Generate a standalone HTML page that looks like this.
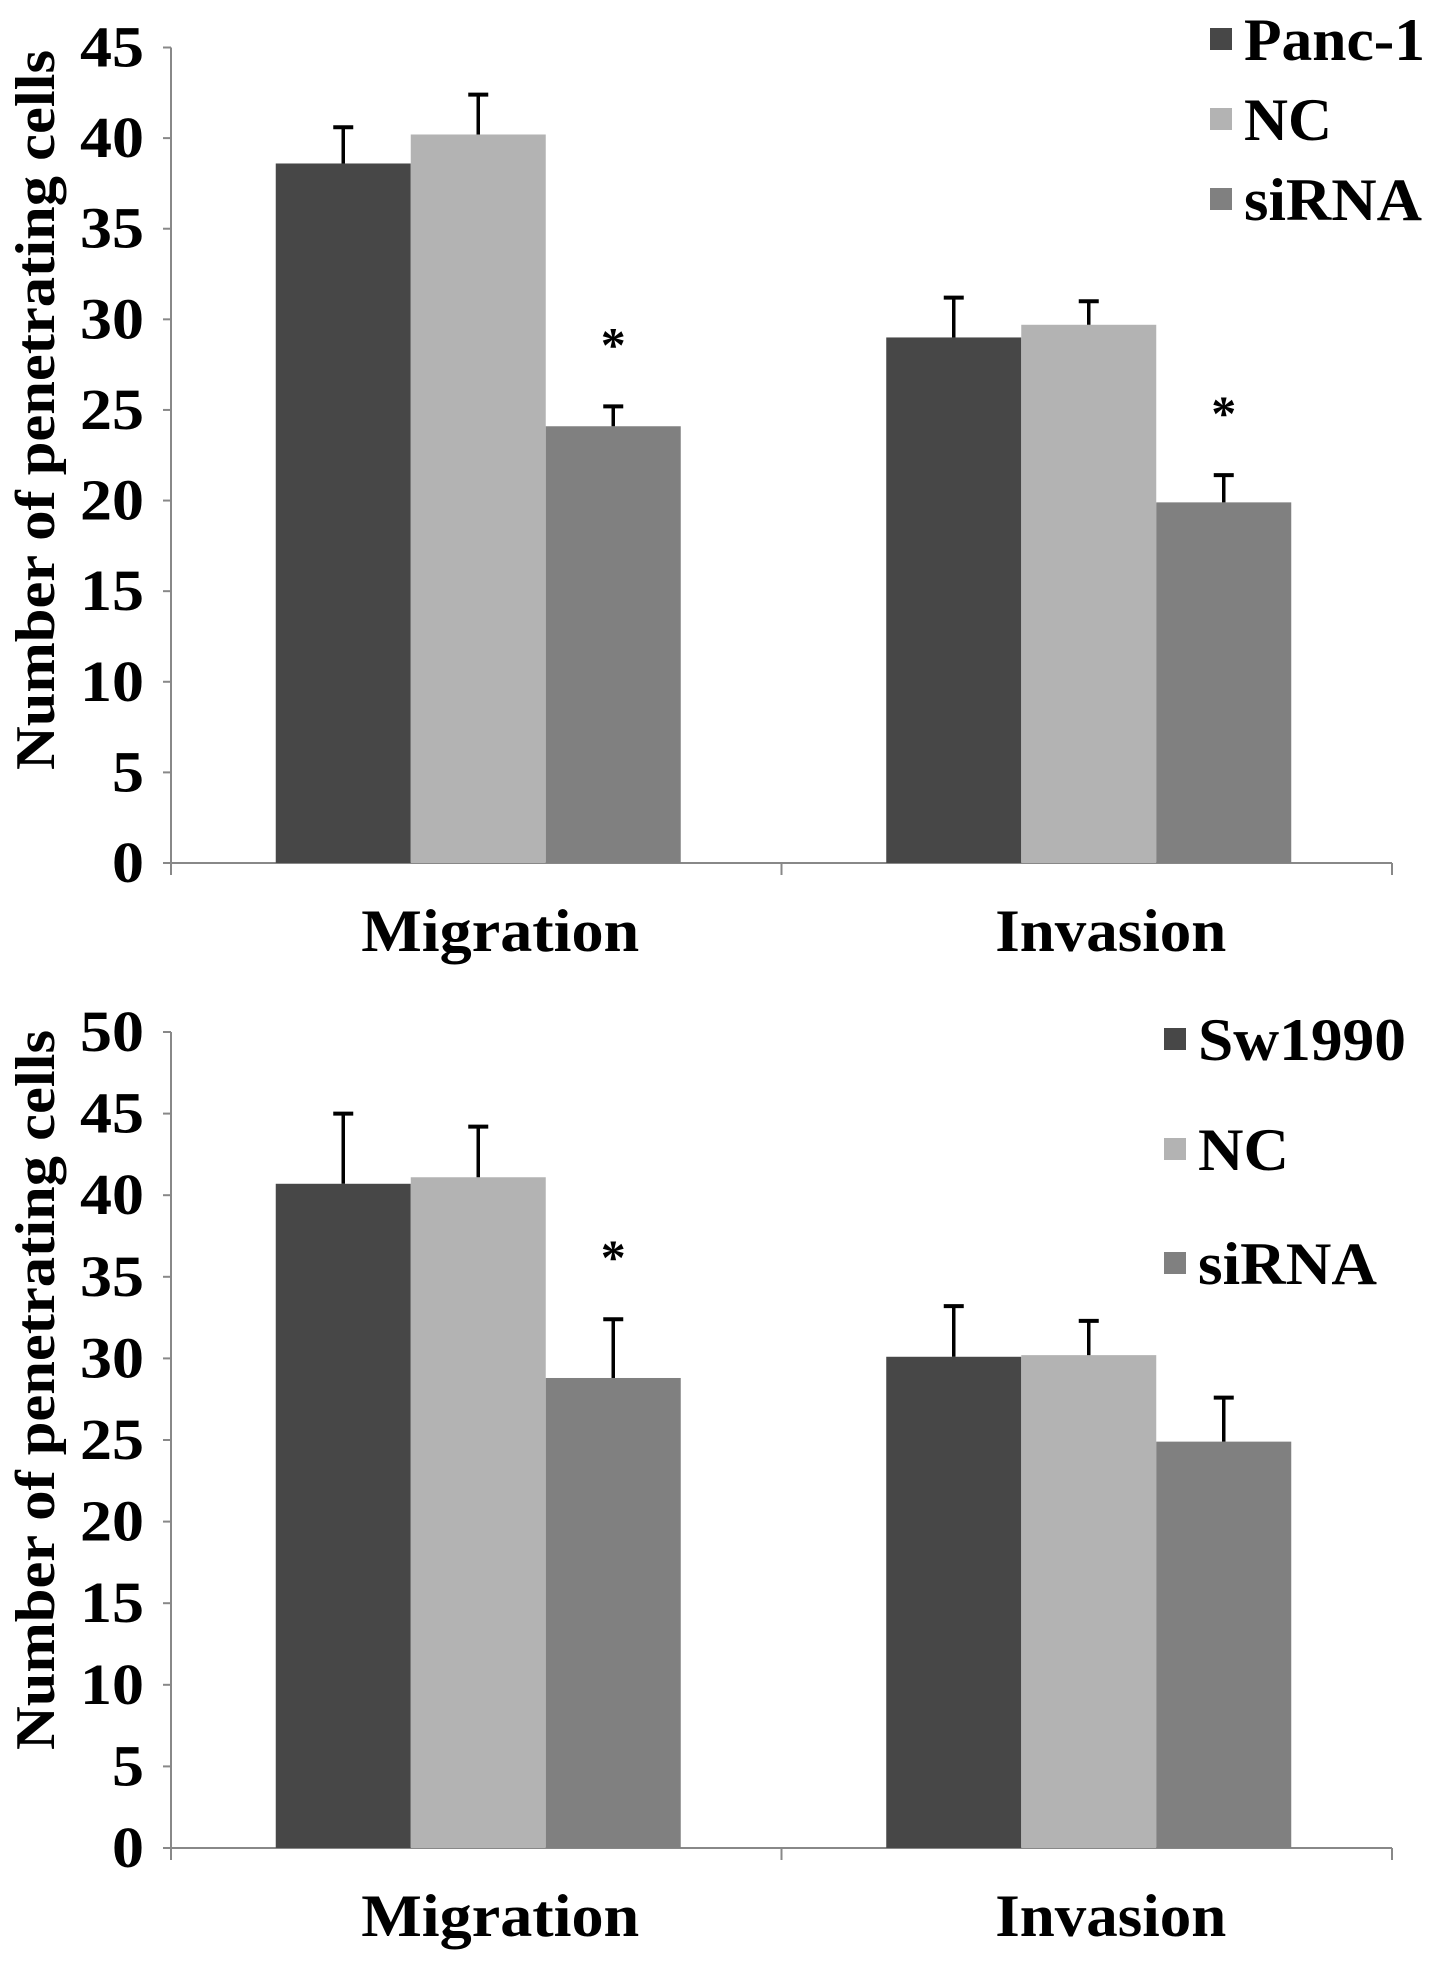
<!DOCTYPE html>
<html><head><meta charset="utf-8"><style>
html,body{margin:0;padding:0;background:#fff}
svg text{font-family:"Liberation Serif",serif;font-weight:bold;fill:#000}
</style></head><body>
<svg id="chart" width="1441" height="1964" viewBox="0 0 1441 1964" xmlns="http://www.w3.org/2000/svg"></svg>
<script>
const categories = ["Migration", "Invasion"];
const seriesTop = ["Panc-1", "NC", "siRNA"];
const seriesBottom = ["Sw1990", "NC", "siRNA"];
const topValues = [[38.6, 29.0], [40.2, 29.7], [24.1, 19.9]];
const topErrors = [[2.0, 2.2], [2.2, 1.3], [1.1, 1.5]];
const topStars = [[false, false], [false, false], [true, true]];
const topTicks = [0, 5, 10, 15, 20, 25, 30, 35, 40, 45];
const bottomValues = [[40.7, 30.1], [41.1, 30.2], [28.8, 24.9]];
const bottomErrors = [[4.3, 3.1], [3.1, 2.1], [3.6, 2.7]];
const bottomStars = [[false, false], [false, false], [true, false]];
const bottomTicks = [0, 5, 10, 15, 20, 25, 30, 35, 40, 45, 50];
const colors = ["#474747", "#b3b3b3", "#808080"];
const NS = "http://www.w3.org/2000/svg";
const svg = document.getElementById("chart");
function mk(tag, attrs, parent) {
  const e = document.createElementNS(NS, tag);
  for (const k in attrs) e.setAttribute(k, attrs[k]);
  (parent || svg).appendChild(e);
  return e;
}
function drawChart(cfg) {
  const g = mk("g", {});
  
  
  const x0 = 171, x1 = 1392;
  const maxV = cfg.ticks[cfg.ticks.length - 1];
  const y = v => cfg.y0 - (cfg.y0 - cfg.yTop) * v / maxV;
  const catW = (x1 - x0) / categories.length;
  const barW = 135;
  const ya = mk("line", {x1: x0, y1: y(maxV), x2: x0, y2: cfg.y0, stroke: "#888", "stroke-width": 2}, g);
  
  
  cfg.ticks.forEach(t => {
    const tk = mk("line", {x1: x0 - 8, y1: y(t), x2: x0, y2: y(t), stroke: "#888", "stroke-width": 2}, g);
    
    
    const s = String(t);
    const tl = mk("text", {x: x0 - 27, y: y(t) + 19, "text-anchor": "end", "font-size": 58, textLength: s.length * 32, lengthAdjust: "spacingAndGlyphs"}, g);
    tl.textContent = s;
    
    
  });
  const xa = mk("line", {x1: x0, y1: cfg.y0, x2: x1, y2: cfg.y0, stroke: "#888", "stroke-width": 2}, g);
  
  
  for (let i = 0; i <= categories.length; i++) {
    const tk = mk("line", {x1: x0 + i * catW, y1: cfg.y0, x2: x0 + i * catW, y2: cfg.y0 + 12, stroke: "#888", "stroke-width": 2}, g);
    
    
  }
  const labelLen = [278, 231];
  categories.forEach((c, ci) => {
    const cx = x0 + catW * (ci + 0.5);
    const lbl = mk("text", {x: cx + 24, y: cfg.y0 + 88, "text-anchor": "middle", "font-size": 60, textLength: labelLen[ci], lengthAdjust: "spacingAndGlyphs"}, g);
    lbl.textContent = c;
    
    
    cfg.values.forEach((vals, si) => {
      const v = vals[ci], e = cfg.errors[si][ci];
      const bx = cx - 1.5 * barW + si * barW + 2;
      const r = mk("rect", {x: bx, y: y(v), width: barW, height: cfg.y0 - y(v), fill: colors[si]}, g);
      
      
      const mx = bx + barW / 2;
      const el = mk("line", {x1: mx, y1: y(v), x2: mx, y2: y(v + e), stroke: "#000", "stroke-width": 3.5}, g);
      
      
      const cap = mk("line", {x1: mx - 10, y1: y(v + e), x2: mx + 10, y2: y(v + e), stroke: "#000", "stroke-width": 4}, g);
      
      
      if (cfg.stars[si][ci]) {
        const st = mk("text", {x: mx, y: y(v + e) - 45, "text-anchor": "middle", "font-size": 50}, g);
        st.textContent = "*";
        
        
      }
    });
  });
  const yt = mk("text", {x: 0, y: 0, "text-anchor": "middle", "font-size": 56, transform: `translate(54,${cfg.titleY}) rotate(-90)`, textLength: 720, lengthAdjust: "spacingAndGlyphs"}, g);
  yt.textContent = "Number of penetrating cells";
  
  
  cfg.series.forEach((s, si) => {
    const ly = cfg.legendY[si];
    const sq = mk("rect", {x: cfg.legendX, y: ly - 12, width: 22, height: 22, fill: colors[si]}, g);
    
    
    const lt = mk("text", {x: cfg.legendX + 34, y: ly + 20, "font-size": 60, textLength: cfg.legendLen[si], lengthAdjust: "spacingAndGlyphs"}, g);
    lt.textContent = s;
    
    
  });
}
drawChart({name: "panc1-chart", series: seriesTop, values: topValues, errors: topErrors, stars: topStars, ticks: topTicks, y0: 863, yTop: 47.5, titleY: 410, legendX: 1210, legendY: [40, 120, 200], legendLen: [181, 88, 178]});
drawChart({name: "sw1990-chart", series: seriesBottom, values: bottomValues, errors: bottomErrors, stars: bottomStars, ticks: bottomTicks, y0: 1848, yTop: 1032, titleY: 1390, legendX: 1164, legendY: [1040, 1150, 1264], legendLen: [208, 91, 179]});
</script>
</body></html>
